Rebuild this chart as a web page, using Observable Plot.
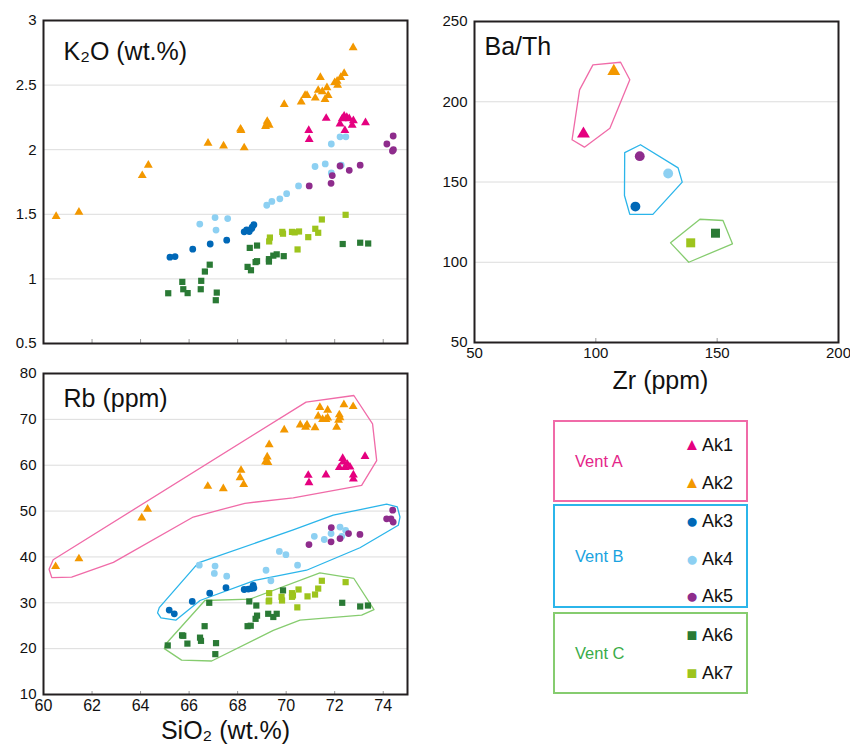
<!DOCTYPE html>
<html><head><meta charset="utf-8">
<script src="https://cdn.jsdelivr.net/npm/d3@7"></script>
<script src="https://cdn.jsdelivr.net/npm/@observablehq/plot@0.6"></script>
<style>
body{margin:0;background:#fff;font-family:"Liberation Sans",Arial,sans-serif;}
#wrap{position:relative;width:850px;height:745px;overflow:hidden;background:#fff;}
.panel{position:absolute;}
.lbox{position:absolute;box-sizing:border-box;border:2px solid;}
.vent{position:absolute;left:20px;font-size:16.5px;transform:translateY(-50%);}
.item{position:absolute;left:128px;font-size:18px;line-height:20px;color:#111;transform:translateY(-50%);white-space:nowrap;display:flex;align-items:center;}
.sym{display:inline-block;width:18px;text-align:center;margin-right:1px;line-height:20px;}
</style></head>
<body><div id="wrap"></div>
<script>
// ---------- data ----------
const samples = ["Ak1","Ak2","Ak3","Ak4","Ak5","Ak6","Ak7"];
const sampleColors = ["#e5007f","#f39800","#0068b7","#8dd0f2","#8e2c8c","#2a7a35","#9dc41d"];
const sampleSymbols = ["triangle","triangle","circle","circle","circle","square","square"];
const vents = ["Vent A","Vent B","Vent C"];
const ventSamples = [["Ak1","Ak2"],["Ak3","Ak4","Ak5"],["Ak6","Ak7"]];
const ventTextColors = ["#e4268a","#1aa3e0","#3aac48"];
const ventLineColors = ["#f06ba8","#2bb5ea","#86cc6f"];

const sio2Ticks = [60,62,64,66,68,70,72,74];
const k2oTicks = [0.5,1,1.5,2,2.5,3];
const rbTicks = [10,20,30,40,50,60,70,80];
const zrTicks = [50,100,150,200];
const bathTicks = [50,100,150,200,250];

// K2O vs SiO2  [SiO2, K2O]
const k2o_Ak1 = [[71.65,2.243],[70.93,2.15],[70.95,2.08],[72.39,2.26],[72.31,2.24],[72.5,2.25],[72.22,2.20],[72.6,2.24],[72.42,2.15],[72.77,2.225],[72.72,2.19],[73.27,2.21]];
const k2o_Ak2 = [[72.76,2.79],[72.39,2.59],[72.25,2.56],[72.1,2.53],[72.0,2.52],[72.12,2.50],[71.41,2.56],[71.32,2.46],[71.49,2.45],[71.68,2.48],[71.73,2.42],[71.2,2.40],[71.6,2.39],[70.86,2.42],[70.78,2.42],[70.62,2.37],[69.92,2.35],[69.22,2.22],[69.2,2.2],[69.15,2.18],[69.3,2.19],[68.12,2.16],[68.14,2.15],[68.27,2.015],[67.42,2.03],[66.78,2.05],[64.32,1.88],[64.07,1.80],[60.52,1.483],[61.46,1.517]];
const k2o_Ak3 = [[65.21,1.168],[65.42,1.173],[66.15,1.23],[66.87,1.27],[67.55,1.30],[68.27,1.364],[68.37,1.38],[68.48,1.367],[68.58,1.39],[68.67,1.42],[68.6,1.40]];
const k2o_Ak4 = [[72.22,2.10],[72.46,2.10],[71.86,2.044],[71.19,1.87],[71.61,1.89],[71.86,1.82],[72.27,1.88],[70.51,1.72],[70.02,1.66],[69.74,1.62],[69.41,1.60],[69.2,1.57],[66.44,1.424],[67.07,1.475],[67.59,1.467],[67.11,1.378]];
const k2o_Ak5 = [[74.41,2.106],[74.15,2.044],[74.38,1.99],[74.42,2.0],[73.05,1.88],[72.22,1.874],[72.6,1.84],[71.9,1.80],[71.85,1.74],[70.95,1.72]];
const k2o_Ak6 = [[65.14,0.889],[65.72,0.977],[65.76,0.92],[65.94,0.89],[66.5,0.985],[66.48,0.92],[66.65,1.057],[66.85,1.11],[67.14,0.894],[67.1,0.835],[68.5,1.24],[68.8,1.258],[68.41,1.093],[68.55,1.067],[68.74,1.13],[68.8,1.137],[69.29,1.153],[69.29,1.134],[69.47,1.18],[69.61,1.19],[69.9,1.176],[72.33,1.27],[73.05,1.28],[73.38,1.274]];
const k2o_Ak7 = [[69.33,1.32],[69.3,1.29],[69.84,1.364],[69.87,1.35],[70.24,1.364],[70.35,1.36],[70.53,1.367],[70.47,1.228],[70.91,1.323],[71.2,1.388],[71.32,1.357],[71.47,1.46],[72.45,1.496]];

// Rb vs SiO2  [SiO2, Rb]
const rb_Ak1 = [[70.91,57.8],[70.94,56.2],[71.64,57.9],[72.33,61.5],[72.35,60.7],[72.19,59.5],[72.42,59.5],[72.52,60.2],[72.63,59.6],[72.77,57.9],[72.77,57.0],[73.25,61.9]];
const rb_Ak2 = [[72.76,72.8],[72.38,73.2],[71.39,72.6],[71.71,72.0],[71.32,70.7],[71.5,70.0],[71.64,70.0],[71.71,70.3],[72.19,71.0],[72.22,70.35],[72.16,69.8],[72.08,68.3],[70.58,68.8],[70.86,68.8],[70.8,68.3],[71.19,68.2],[69.92,67.7],[69.3,64.5],[69.22,61.8],[69.15,60.7],[69.25,60.6],[68.14,58.9],[68.1,57.3],[68.25,55.8],[66.77,55.4],[67.41,54.9],[64.29,50.4],[64.05,48.5],[60.5,37.9],[61.46,39.6]];
const rb_Ak3 = [[65.18,28.4],[65.39,27.6],[66.13,30.3],[66.85,32.1],[67.52,33.3],[68.27,32.9],[68.44,33.0],[68.56,33.1],[68.64,33.8],[68.67,33.2]];
const rb_Ak4 = [[66.42,38.2],[67.07,38.0],[67.04,36.4],[67.55,35.8],[69.72,41.2],[69.99,40.5],[69.17,37.1],[69.37,34.8],[70.47,38.2],[71.16,44.5],[71.57,43.8],[71.85,45.1],[72.22,46.5],[72.29,44.5],[72.45,45.8]];
const rb_Ak5 = [[70.94,42.7],[71.86,46.4],[71.85,43.3],[72.22,44.0],[72.57,45.1],[73.04,44.9],[74.39,50.2],[74.14,48.3],[74.32,48.3],[74.41,47.6]];
const rb_Ak6 = [[65.12,20.7],[65.71,22.9],[65.76,22.8],[65.93,21.1],[66.45,22.4],[66.49,21.7],[66.83,30.0],[66.64,24.9],[67.11,21.2],[67.08,18.8],[68.48,30.3],[68.77,29.4],[68.41,24.9],[68.54,25.0],[68.74,26.5],[68.8,27.2],[69.26,27.6],[69.47,26.9],[69.61,27.6],[69.87,32.7],[72.31,30.0],[73.05,29.2],[73.37,29.4]];
const rb_Ak7 = [[69.3,32.1],[69.3,30.5],[69.28,30.3],[69.81,31.3],[69.83,30.5],[70.24,32.1],[70.28,31.6],[70.24,31.3],[70.51,32.9],[70.46,29.0],[70.88,31.4],[71.19,31.8],[71.32,33.1],[71.47,34.8],[72.45,34.5]];

// Rb field outlines [SiO2, Rb]
const rbHullA = [[60.40,39.4],[60.23,37.3],[60.34,35.5],[61.16,35.6],[62.88,38.8],[66.17,48.7],[68.30,51.7],[70.29,52.9],[73.11,55.6],[73.73,61.0],[73.56,69.0],[72.79,75.2],[70.82,73.75],[60.40,39.4]];
const rbHullB = [[64.77,28.95],[64.70,27.8],[64.84,26.7],[65.45,26.2],[66.45,30.5],[68.71,34.9],[70.84,37.1],[73.04,42.0],[74.62,46.9],[74.69,48.7],[74.58,50.9],[74.14,51.5],[71.94,49.1],[70.29,45.9],[66.38,38.7],[64.77,28.95]];
const rbHullC = [[65.03,20.96],[64.98,20.0],[65.69,17.5],[66.93,17.3],[69.47,24.0],[70.57,26.2],[73.11,27.3],[73.62,28.5],[72.79,35.3],[71.39,36.5],[68.51,30.8],[66.65,30.5],[65.03,20.96]];

// Ba/Th vs Zr (one mean per sample, order = samples)
const zrValues = [94.9,107.4,116.3,129.8,118.1,149.3,139.1];
const bathValues = [180.0,219.0,134.7,155.3,166.1,118.1,112.1];
const bathHullA = [[90.2,176.3],[93.3,207.4],[98.8,223.0],[110.2,224.6],[114.0,213.7],[105.8,183.5],[95.3,171.7],[90.2,176.3]];
const bathHullB = [[111.9,168.3],[118.4,173.2],[133.9,158.8],[135.6,149.9],[123.5,129.8],[114.0,129.8],[111.8,141.6],[111.9,168.3]];
const bathHullC = [[130.8,112.1],[142.9,126.8],[152.4,126.0],[156.3,111.5],[138.3,100.0],[130.8,112.1]];

// ---------- drawing ----------
const FONT = '"Liberation Sans", Arial, sans-serif';
const FRAME = "#231f20";
const GRID = "#dcdcdc";
const k2oSets = [k2o_Ak1,k2o_Ak2,k2o_Ak3,k2o_Ak4,k2o_Ak5,k2o_Ak6,k2o_Ak7];
const rbSets = [rb_Ak1,rb_Ak2,rb_Ak3,rb_Ak4,rb_Ak5,rb_Ak6,rb_Ak7];
const symR = {triangle: 3.3, circle: 3.4, square: 3.5};

function sampleDots(sets, scale) {
  return sets.map((pts, i) => Plot.dot(pts, {
    x: d => d[0], y: d => d[1], symbol: () => sampleSymbols[i],
    fill: sampleColors[i], stroke: "none", r: symR[sampleSymbols[i]] * (scale || 1)
  }));
}
function hull(pts, i) {
  return Plot.line(pts, {x: d => d[0], y: d => d[1], stroke: ventLineColors[i], strokeWidth: 1.3, curve: "linear"});
}
function place(svg, left, top) {
  const d = document.createElement("div");
  d.className = "panel"; d.style.left = left + "px"; d.style.top = top + "px";
  d.appendChild(svg); document.getElementById("wrap").appendChild(d);
}

// Panel 1: K2O
const p1 = Plot.plot({
  width: 420, height: 360, marginLeft: 43, marginRight: 13, marginTop: 20, marginBottom: 17,
  style: {fontFamily: FONT, background: "transparent", color: "#111"},
  x: {domain: [60, 75]}, y: {domain: [0.5, 3]},
  marks: [
    Plot.gridY(k2oTicks, {stroke: GRID, strokeOpacity: 1}),
    Plot.axisY(k2oTicks, {tickSize: 0, tickPadding: 7, fontSize: 15, label: null, tickFormat: d => String(d)}),
    Plot.axisX(sio2Ticks, {tickSize: -4, tickFormat: () => "", label: null, stroke: "#999"}),
    ...sampleDots(k2oSets),
    Plot.frame({stroke: FRAME, strokeWidth: 2}),
    Plot.text(["K₂O (wt.%)"], {frameAnchor: "top-left", lineAnchor: "middle", textAnchor: "start", dx: 20, dy: 31, fontSize: 25, fill: "#111"})
  ]
});
place(p1, 0, 0);

// Panel 2: Rb
const p2 = Plot.plot({
  width: 420, height: 385, marginLeft: 43, marginRight: 13, marginTop: 13, marginBottom: 51,
  style: {fontFamily: FONT, background: "transparent", color: "#111"},
  x: {domain: [60, 75]}, y: {domain: [10, 80]},
  marks: [
    Plot.gridY(rbTicks, {stroke: GRID, strokeOpacity: 1}),
    Plot.axisY(rbTicks, {tickSize: 0, tickPadding: 7, fontSize: 15, label: null}),
    Plot.axisX(sio2Ticks, {tickSize: -3, tickPadding: 8, fontSize: 16, label: null, stroke: "#999"}),
    hull(rbHullA, 0), hull(rbHullB, 1), hull(rbHullC, 2),
    ...sampleDots(rbSets),
    Plot.frame({stroke: FRAME, strokeWidth: 2}),
    Plot.text(["Rb (ppm)"], {frameAnchor: "top-left", lineAnchor: "middle", textAnchor: "start", dx: 20, dy: 25, fontSize: 25, fill: "#111"}),
    Plot.text(["SiO₂ (wt.%)"], {frameAnchor: "bottom", lineAnchor: "middle", dy: 36, fontSize: 25, fill: "#111"})
  ]
});
place(p2, 0, 360);

// Panel 3: Ba/Th vs Zr
const bathPts = samples.map((s, i) => ({s, zr: zrValues[i], v: bathValues[i]}));
const p3 = Plot.plot({
  width: 430, height: 400, marginLeft: 54, marginRight: 12, marginTop: 21, marginBottom: 58,
  style: {fontFamily: FONT, background: "transparent", color: "#111"},
  x: {domain: [50, 200]}, y: {domain: [50, 250]},
  marks: [
    Plot.gridY(bathTicks, {stroke: GRID, strokeOpacity: 1}),
    Plot.axisY(bathTicks, {tickSize: 0, tickPadding: 7, fontSize: 15, label: null}),
    Plot.axisX(zrTicks, {tickSize: -4, tickPadding: 9, fontSize: 15, label: null, stroke: "#999"}),
    hull(bathHullA, 0), hull(bathHullB, 1), hull(bathHullC, 2),
    ...bathPts.map((d, i) => Plot.dot([d], {x: "zr", y: "v", symbol: () => sampleSymbols[i], fill: sampleColors[i], stroke: "none", r: symR[sampleSymbols[i]] * 1.45})),
    Plot.frame({stroke: FRAME, strokeWidth: 2}),
    Plot.text(["Ba/Th"], {frameAnchor: "top-left", lineAnchor: "middle", textAnchor: "start", dx: 10, dy: 25, fontSize: 25, fill: "#111"}),
    Plot.text(["Zr (ppm)"], {frameAnchor: "bottom", lineAnchor: "middle", dx: 4, dy: 38, fontSize: 25, fill: "#111"})
  ]
});
place(p3, 420, 0);

// Legend
const glyph = {triangle: "▲", circle: "●", square: "■"};
const glyphSize = {triangle: "17px", circle: "21px", square: "18px"};
const boxTop = [420, 504, 612], boxH = [82, 104, 82];
const itemTops = [[23, 61], [15, 53, 90], [21, 59]];
const wrap = document.getElementById("wrap");
vents.forEach((v, vi) => {
  const b = document.createElement("div");
  b.className = "lbox";
  b.style.left = "553px"; b.style.top = boxTop[vi] + "px";
  b.style.width = "195px"; b.style.height = boxH[vi] + "px";
  b.style.borderColor = ventLineColors[vi];
  const t = document.createElement("div");
  t.className = "vent"; t.textContent = v; t.style.color = ventTextColors[vi];
  t.style.top = (boxH[vi] / 2 - 2) + "px";
  b.appendChild(t);
  ventSamples[vi].forEach((s, k) => {
    const i = samples.indexOf(s);
    const it = document.createElement("div");
    it.className = "item"; it.style.top = itemTops[vi][k] + "px";
    const sy = document.createElement("span");
    sy.className = "sym"; sy.textContent = glyph[sampleSymbols[i]];
    sy.style.color = sampleColors[i];
    sy.style.fontSize = glyphSize[sampleSymbols[i]];
    it.appendChild(sy);
    const lab = document.createElement("span");
    lab.textContent = s;
    it.appendChild(lab);
    b.appendChild(it);
  });
  wrap.appendChild(b);
});
</script></body></html>
